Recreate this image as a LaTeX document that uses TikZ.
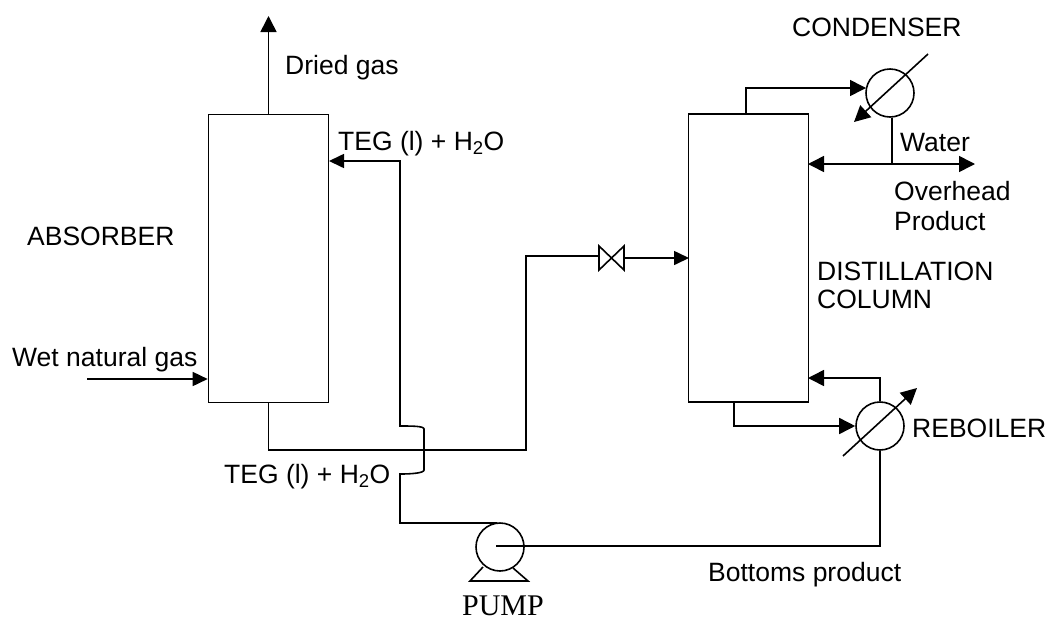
\documentclass[tikz,border=0pt]{standalone}
\usepackage{fontspec}
\setmainfont{Liberation Sans}
\newfontfamily\pumpfont{Liberation Serif}
\usepackage{tikz}
\usetikzlibrary{arrows.meta,positioning}
\tikzset{
      pipe/.style = {black, line width=1.6pt},
      flow/.style = {pipe, -{Triangle[length=16pt,width=16pt]}},
      flowsmall/.style = {pipe, -{Triangle[length=15pt,width=14pt]}},
      column/.style = {rectangle, draw, line width=1.6pt, inner sep=0pt, minimum width=120pt, minimum height=288pt},
      exchanger/.style = {circle, draw, line width=1.6pt, inner sep=0pt, minimum size=48pt},
      txt/.style = {anchor=west, inner sep=0pt, yshift=-2.5pt, font=\fontsize{26.5}{30}\selectfont},
    }

\begin{document}
\begin{tikzpicture}[x=1pt,y=-1pt]
        \useasboundingbox (0,0) rectangle (1049,619);
        % vessels
        \node [column] (absorber) at (268.5,258.5) {};
        \node [column] (still) at (748.5,258) {};
        \node [exchanger] (cond) at (890,93) {};
        \node [exchanger] (reb) at (880,426) {};
        \node [exchanger] (pump) at (500,547) {};

        % valve
        \coordinate (v1) at (599,246);
        \coordinate (v2) at (624,270);
        \coordinate (v3) at (599,270);
        \coordinate (v4) at (624,246);
        \draw [pipe] (v1) -- (v2) -- (v4) -- (v3) -- cycle;

        % pump feet
        \coordinate (f1) at (483,567);
        \coordinate (f2) at (470,581);
        \coordinate (f3) at (528,581);
        \coordinate (f4) at (513,568);
        \draw [pipe] (f1) -- (f2) -- (f3) -- (f4);

        % free ends and bends
        \coordinate (top) at (268.5,16);
        \coordinate (wet) at (87,379);
        \coordinate (wetin) at (absorber.west |- wet);
        \coordinate (tegin) at (329,161);
        \coordinate (t1) at (400,161);
        \coordinate (t2) at (400,426);
        \coordinate (t3) at (424,429);
        \coordinate (t4) at (424,470);
        \coordinate (t5) at (400,474);
        \coordinate (t6) at (400,523);
        \coordinate (t7) at (497,523);
        \coordinate (b1) at (268.5,450);
        \coordinate (b2) at (526,450);
        \coordinate (b3) at (526,256);
        \coordinate (feed) at (689,258);
        \coordinate (pc) at (496,546);
        \coordinate (p1) at (880,546);
        \coordinate (r1) at (880,378);
        \coordinate (r2) at (808,378);
        \coordinate (s1) at (734,402);
        \coordinate (s2) at (734,426);
        \coordinate (rd1) at (843,456);
        \coordinate (rd2) at (917,388);
        \coordinate (c1) at (746,114);
        \coordinate (c2) at (746,88);
        \coordinate (c3) at (866,88);
        \coordinate (cd1) at (928,54);
        \coordinate (cd2) at (854,122);
        \coordinate (w1) at (892,164);
        \coordinate (w2) at (808,164);
        \coordinate (w3) at (975,164);

        % pipes
        \draw [flow] (absorber.north) -- (top);
        \draw [flowsmall] (wet) -- (wetin);
        \draw [flowsmall] (t7) -- (t6) -- (t5) .. controls (412,474) and (424,473) .. (t4)
              -- (t3) .. controls (424,426) and (412,426) .. (t2) -- (t1) -- (tegin);
        \draw [pipe] (absorber.south) -- (b1) -- (b2) -- (b3) -- (v1 |- b3);
        \draw [flowsmall] (v4 |- feed) -- (feed);
        \draw [pipe] (pc) -- (p1) -- (reb.south);
        \draw [flow] (reb.north) -- (r1) -- (r2);
        \draw [flow] (s1) -- (s2) -- (reb.west);
        \draw [flow] (rd1) -- (rd2);
        \draw [flow] (c1) -- (c2) -- (c3);
        \draw [flow] (cd1) -- (cd2);
        \draw [pipe] (cond.south -| w1) -- (w1);
        \draw [flow] (w1) -- (w2);
        \draw [flow] (w1) -- (w3);

        % labels
        \node [txt] (lgas) at (285,65) {Dried gas};
        \node [txt] (lteg) at (338,141) {TEG (l) + H\textsubscript{2}O};
        \node [txt] (labs) at (27,234) {ABSORBER};
        \node [txt] (lwet) at (12,357) {Wet natural gas};
        \node [txt] (lteg2) at (224,474) {TEG (l) + H\textsubscript{2}O};
        \node [txt] (lbot) at (708,572) {Bottoms product};
        \node [txt] (lreb) at (912,426) {REBOILER};
        \node [txt] (ldist) at (817,269) {DISTILLATION};
        \node [txt] (lcol) at (817,297) {COLUMN};
        \node [txt] (lcond) at (792,25) {CONDENSER};
        \node [txt] (lwat) at (900,140) {Water};
        \node [txt] (lover) at (894,189) {Overhead};
        \node [txt] (lprod) at (894,219) {Product};
        \node [inner sep=0pt, font=\pumpfont\fontsize{30}{34}\selectfont] (lpump) at (503,606) {PUMP};
\end{tikzpicture}
\end{document}
